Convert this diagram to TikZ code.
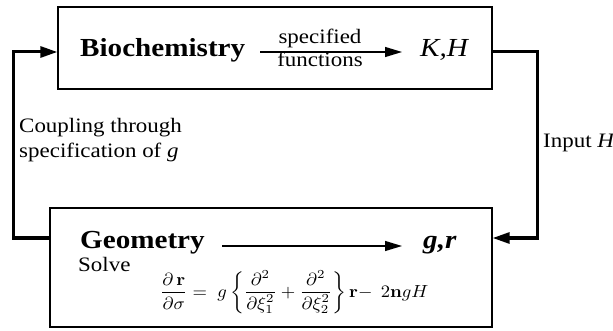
\documentclass[tikz,border=0pt]{standalone}
\usepackage[no-math]{fontspec}
\setmainfont{Liberation Serif}[FakeStretch=1.12]
\usepackage{graphicx}
\usetikzlibrary{arrows.meta}
\begin{document}
\begin{tikzpicture}[x=1pt,y=-1pt,
  box/.style={draw, line width=1.3pt, inner sep=0pt},
  conn/.style={line width=3pt, line join=miter, -{Triangle[length=17pt,width=11pt]}},
  inarr/.style={line width=1.2pt, -{Triangle[length=17pt,width=10pt]}},
  big/.style={font=\fontsize{26}{30}\selectfont, inner sep=0pt},
  txt/.style={font=\fontsize{20.5}{25}\selectfont, inner sep=0pt}]
\useasboundingbox (0,0) rectangle (613,331);
% boxes
\node[box, minimum width=434pt, minimum height=82pt] (top) at (275,48) {};
\node[box, minimum width=442pt, minimum height=119pt] (bot) at (271,267.5) {};
% top box contents
\node[big, anchor=base west] (bio) at (80,57) {\textbf{Biochemistry}};
\coordinate (a1s) at (260,52);
\coordinate (a1e) at (402,52);
\draw[inarr] (a1s) -- (a1e);
\node[txt, anchor=base] (spec) at (320,44) {specified};
\node[txt, anchor=base] (func) at (320,67) {functions};
\node[big, anchor=base west] (KH) at (420,57) {\textit{K,H}};
% bottom box contents
\node[big, anchor=base west] (geo) at (80,248) {\textbf{Geometry}};
\coordinate (a2s) at (222,246);
\coordinate (a2e) at (402,246);
\draw[inarr] (a2s) -- (a2e);
\node[big, anchor=base west] (gr) at (423,248) {\textbf{\textit{g,r}}};
\node[txt, anchor=base west] (solve) at (78,271) {Solve};
\node[anchor=base west, inner sep=0pt] (eq) at (160,297)
  {\scalebox{1.86}[1.75]{\fontsize{10}{12}\selectfont$\displaystyle \frac{\partial\,\mathbf r}{\partial\sigma} = \; g\left\{\frac{\partial^2}{\partial\xi_1^2}+\frac{\partial^2}{\partial\xi_2^2}\right\}\mathbf r{-}\;\,2\mathbf n gH$}};
% side labels
\node[txt, anchor=base west] (coup1) at (19,133) {Coupling through};
\node[txt, anchor=base west] (coup2) at (19,158) {specification of \textit{g}};
\node[txt, anchor=base west] (inp) at (543,148) {Input \textit{H}};
% connectors
\coordinate (lc) at (13,52);
\coordinate (rc) at (537,52);
\draw[conn] ([yshift=29.5pt]bot.west) -| (lc) -- ([yshift=-4pt]top.west);
\draw[conn] ([yshift=-4pt]top.east) -- (rc) |- ([yshift=29.5pt]bot.east);
\end{tikzpicture}
\end{document}
